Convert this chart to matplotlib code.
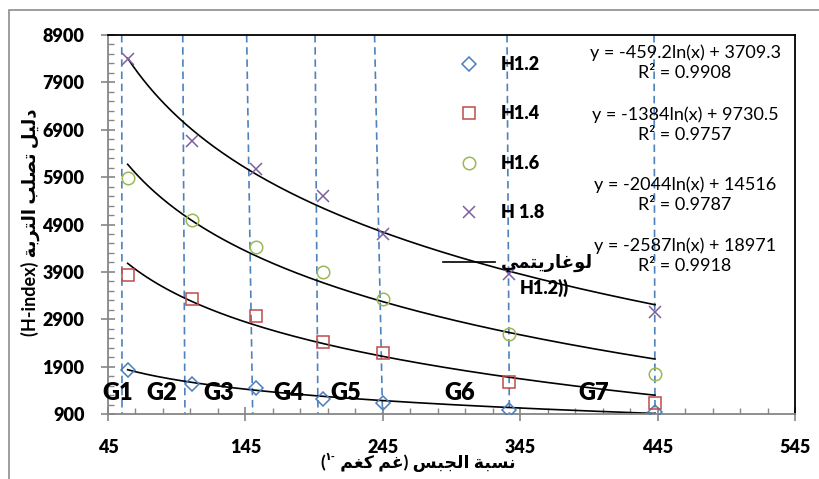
import numpy as np
import matplotlib
matplotlib.use("Agg")
import matplotlib.pyplot as plt
from matplotlib.lines import Line2D
from matplotlib.patches import Rectangle

# ---------------- data ----------------
gypsum = [59.3, 105.9, 152.5, 201.7, 244.9, 337.1, 443.1]
h12 = [1830, 1528, 1443, 1217, 1140, 985, 936]
h14 = [3835, 3328, 2969, 2427, 2182, 1583, 1126]
h16 = [5888, 4995, 4432, 3891, 3328, 2589, 1745]
h18 = [8393, 6663, 6072, 5502, 4706, 3856, 3047]

series_names = ["H1.2", "H1.4", "H1.6", "H 1.8"]
fit_slope = [-459.2, -1384, -2044, -2587]
fit_icept = [3709.3, 9730.5, 14516, 18971]
fit_eq = ["y = -459.2ln(x) + 3709.3\nR² = 0.9908",
          "y = -1384ln(x) + 9730.5\nR² = 0.9757",
          "y = -2044ln(x) + 14516\nR² = 0.9787",
          "y = -2587ln(x) + 18971\nR² = 0.9918"]

# group boundaries (dashed lines, slightly slanted: top x, bottom x)
bound_top = [55.0, 99.4, 145.9, 195.7, 239.0, 335.4, 442.4]
bound_bot = [55.2, 101.0, 150.3, 197.8, 244.8, 337.1, 443.1]
group_labels = ["G1", "G2", "G3", "G4", "G5", "G6", "G7"]
group_x = [51.9, 84.0, 125.5, 176.6, 218.2, 301.2, 398.4]
group_y = 1344

xticks = [45, 145, 245, 345, 445, 545]
yticks = [900, 1900, 2900, 3900, 4900, 5900, 6900, 7900, 8900]

# ------------- Arabic shaping helper -------------
FORMS = {
    'ا': ('\uFE8D', '\uFE8E', None, None),
    'ب': ('\uFE8F', '\uFE90', '\uFE91', '\uFE92'),
    'ة': ('\uFE93', '\uFE94', None, None),
    'ت': ('\uFE95', '\uFE96', '\uFE97', '\uFE98'),
    'ج': ('\uFE9D', '\uFE9E', '\uFE9F', '\uFEA0'),
    'د': ('\uFEA9', '\uFEAA', None, None),
    'ر': ('\uFEAD', '\uFEAE', None, None),
    'س': ('\uFEB1', '\uFEB2', '\uFEB3', '\uFEB4'),
    'ص': ('\uFEB9', '\uFEBA', '\uFEBB', '\uFEBC'),
    'غ': ('\uFECD', '\uFECE', '\uFECF', '\uFED0'),
    'ك': ('\uFED9', '\uFEDA', '\uFEDB', '\uFEDC'),
    'ل': ('\uFEDD', '\uFEDE', '\uFEDF', '\uFEE0'),
    'م': ('\uFEE1', '\uFEE2', '\uFEE3', '\uFEE4'),
    'ن': ('\uFEE5', '\uFEE6', '\uFEE7', '\uFEE8'),
    'و': ('\uFEED', '\uFEEE', None, None),
    'ي': ('\uFEF1', '\uFEF2', '\uFEF3', '\uFEF4'),
}


def rtl(s):
    out = []
    for i, c in enumerate(s):
        if c not in FORMS:
            out.append(c)
            continue
        prev = s[i - 1] if i > 0 else ''
        nxt = s[i + 1] if i + 1 < len(s) else ''
        jp = prev in FORMS and FORMS[prev][2] is not None
        jn = nxt in FORMS and FORMS[c][2] is not None
        iso, fin, ini, med = FORMS[c]
        out.append(med if (jp and jn) else fin if jp else ini if jn else iso)
    return ''.join(reversed(out))


FAM = ['Lato', 'DejaVu Sans']
plt.rcParams['font.family'] = FAM

# ---------------- figure ----------------
fig = plt.figure(figsize=(8.2, 4.79), dpi=100)
fig.patches.append(Rectangle((9 / 820, -0.1), 1.2, 1 - 10 / 479 + 0.1,
                             transform=fig.transFigure, fill=False,
                             edgecolor='#8c8c8c', lw=1.2))
ax = fig.add_axes([108 / 820, 1 - 414 / 479, 687 / 820, 379 / 479])

colors = ['#4A7EBB', '#BE4B48', '#98B954', '#7D60A0']
markers = ['D', 's', 'o', 'x']
msizes = [7, 9, 9, 9]
data = [h12, h14, h16, h18]

# dashed group boundaries
for xt, xb in zip(bound_top, bound_bot):
    ax.plot([xt, xb], [8900, 900], color='#4F81BD', lw=1.2,
            ls=(0, (4.5, 2.8)), zorder=1)

# points
for ys, c, m, ms in zip(data, colors, markers, msizes):
    ax.plot(gypsum, ys, ls='none', marker=m, ms=ms, mfc='none', mec=c,
            mew=1.1, zorder=3)

# trend lines
xf = np.linspace(gypsum[0], gypsum[-1], 300)
for a, b in zip(fit_slope, fit_icept):
    ax.plot(xf, a * np.log(xf) + b, color='black', lw=1.2, zorder=2)

# group labels
for lab, gx in zip(group_labels, group_x):
    ax.text(gx, group_y, lab, fontsize=17, fontweight='heavy', ha='center',
            va='center', zorder=4)

# equations
eq_y = [0.9274, 0.7625, 0.5792, 0.4169]
for s, yy in zip(fit_eq, eq_y):
    ax.text(0.840, yy, s, transform=ax.transAxes, ha='center', va='center',
            fontsize=13, linespacing=1.3, multialignment='center')

# axes
ax.set_xlim(45, 545)
ax.set_ylim(900, 8900)
ax.set_xticks(xticks)
ax.set_yticks(yticks)
ax.set_xticks(np.arange(45, 546, 20), minor=True)
ax.set_yticks(np.arange(900, 8901, 200), minor=True)
for side in ['left', 'bottom']:
    ax.spines[side].set_color('#868686')
    ax.spines[side].set_linewidth(1.3)
for side in ['top', 'right']:
    ax.spines[side].set_color('black')
    ax.spines[side].set_linewidth(1.3)
ax.tick_params(which='major', direction='inout', length=10, width=1.2,
               color='#868686', labelsize=13)
ax.tick_params(which='minor', direction='in', length=4, width=1.0,
               color='#868686')
ax.tick_params(axis='x', which='major', pad=13)
ax.tick_params(axis='y', which='major', pad=12)
for t in ax.get_xticklabels() + ax.get_yticklabels():
    t.set_fontweight('heavy')

# axis titles
ax.text(-0.113, 0.507, "(H-index) " + rtl("دليل تصلب التربة"),
        transform=ax.transAxes, rotation=90, ha='center', va='center',
        fontsize=13, fontweight='bold')
xl = ax.text(0.462, -0.131, " " + rtl("غم كغم") + ") " + rtl("نسبة الجبس"),
             transform=ax.transAxes, ha='center', va='center',
             fontsize=12.5, fontweight='bold')
sup = ax.annotate("١-", xy=(0, 0.6), xycoords=xl, ha='right', va='bottom',
                  fontsize=8, fontweight='bold')
ax.annotate("(", xy=(0, 0.05), xycoords=(sup, xl), ha='right', va='bottom',
            fontsize=12.5, fontweight='bold')

# legend
handles = [Line2D([], [], ls='none', marker=m, ms=ms, mfc='none', mec=c,
                  mew=1.1) for c, m, ms in zip(colors, markers, msizes)]
handles.append(Line2D([], [], color='black', lw=1.2))
labels = series_names + [rtl("لوغاريتمي")]
leg = ax.legend(handles, labels, loc='upper left',
                bbox_to_anchor=(0.4876, 0.945), frameon=False,
                borderpad=0, borderaxespad=0, handlelength=2.9,
                handletextpad=0.3, labelspacing=1.8,
                prop={'family': FAM, 'weight': 'heavy', 'size': 13})
ax.text(0.5997, 0.3325, "H1.2))", transform=ax.transAxes, ha='left',
        va='center', fontsize=13, fontweight='heavy')

fig.savefig("out.png", dpi=100)
